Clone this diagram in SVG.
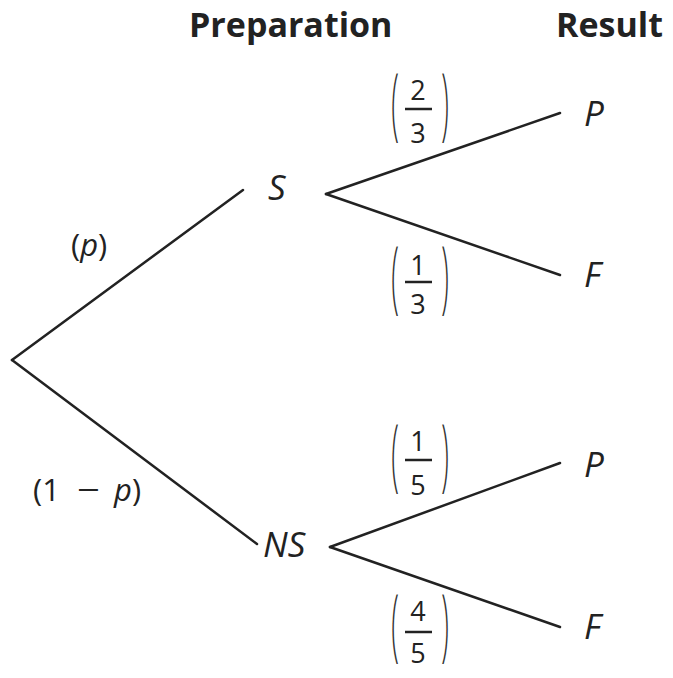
<svg xmlns="http://www.w3.org/2000/svg" width="673" height="678" viewBox="0 0 673 678">
<style>
.hdr{font-family:"Open Sans","Liberation Sans",sans-serif;font-weight:bold;font-size:34px;fill:#222}
.lbl{font-family:"Open Sans","Liberation Sans",sans-serif;font-style:italic;font-size:35px;fill:#222}
.num{font-family:"Open Sans","Liberation Sans",sans-serif;font-size:27px;fill:#222;text-anchor:middle}
.par{font-family:"Open Sans","Liberation Sans",sans-serif;font-size:28px;fill:#333;text-anchor:middle;font-weight:300}
.prob{font-family:"Open Sans","Liberation Sans",sans-serif;font-size:31px;fill:#222}
.edge{stroke:#222;stroke-width:2.5;fill:none;stroke-linecap:round}
.bar{stroke:#222;stroke-width:2.5}
</style>
<rect width="673" height="678" fill="#fff"/>
<g id="headers">
<text class="hdr" x="189" y="37">Preparation</text>
<text class="hdr" x="556" y="37">Result</text>
</g>
<g id="connectors">
<line class="edge" x1="12" y1="360" x2="243" y2="190"/>
<line class="edge" x1="12" y1="360" x2="257" y2="544"/>
<line class="edge" x1="326" y1="194" x2="560" y2="113"/>
<line class="edge" x1="326" y1="194" x2="560" y2="275"/>
<line class="edge" x1="330" y1="547" x2="560" y2="463"/>
<line class="edge" x1="330" y1="547" x2="560" y2="627"/>
</g>
<g id="node-S"><text class="lbl" x="268" y="200">S</text></g>
<g id="node-NS"><text class="lbl" x="263" y="557">NS</text></g>
<g id="node-P1"><text class="lbl" x="584" y="126">P</text></g>
<g id="node-F1"><text class="lbl" x="584" y="287">F</text></g>
<g id="node-P2"><text class="lbl" x="584" y="477">P</text></g>
<g id="node-F2"><text class="lbl" x="584" y="639">F</text></g>
<g id="label-p"><text class="prob" x="71" y="256">(<tspan font-style="italic">p</tspan>)</text></g>
<g id="label-1mp">
<text class="prob" x="33" y="501">(1</text>
<text class="prob" transform="translate(77,501) scale(1.3,1)">−</text>
<text class="prob" x="114" y="501"><tspan font-style="italic">p</tspan>)</text>
</g>
<g id="frac-2-3">
<text class="par" transform="translate(395,109) scale(1,2.8)" y="7.5">(</text>
<text class="par" transform="translate(445,109) scale(1,2.8)" y="7.5">)</text>
<text class="num" x="418" y="100">2</text>
<line class="bar" x1="405" y1="109" x2="432" y2="109"/>
<text class="num" x="418" y="143">3</text>
</g>
<g id="frac-1-3">
<text class="par" transform="translate(395,282) scale(1,2.8)" y="7.5">(</text>
<text class="par" transform="translate(445,282) scale(1,2.8)" y="7.5">)</text>
<text class="num" x="418" y="275">1</text>
<line class="bar" x1="405" y1="282" x2="432" y2="282"/>
<text class="num" x="418" y="314">3</text>
</g>
<g id="frac-1-5">
<text class="par" transform="translate(395,460) scale(1,2.8)" y="7.5">(</text>
<text class="par" transform="translate(445,460) scale(1,2.8)" y="7.5">)</text>
<text class="num" x="418" y="451">1</text>
<line class="bar" x1="405" y1="460" x2="432" y2="460"/>
<text class="num" x="418" y="495">5</text>
</g>
<g id="frac-4-5">
<text class="par" transform="translate(395,630) scale(1,2.8)" y="7.5">(</text>
<text class="par" transform="translate(445,630) scale(1,2.8)" y="7.5">)</text>
<text class="num" x="418" y="621">4</text>
<line class="bar" x1="405" y1="632" x2="432" y2="632"/>
<text class="num" x="418" y="663">5</text>
</g>
</svg>
